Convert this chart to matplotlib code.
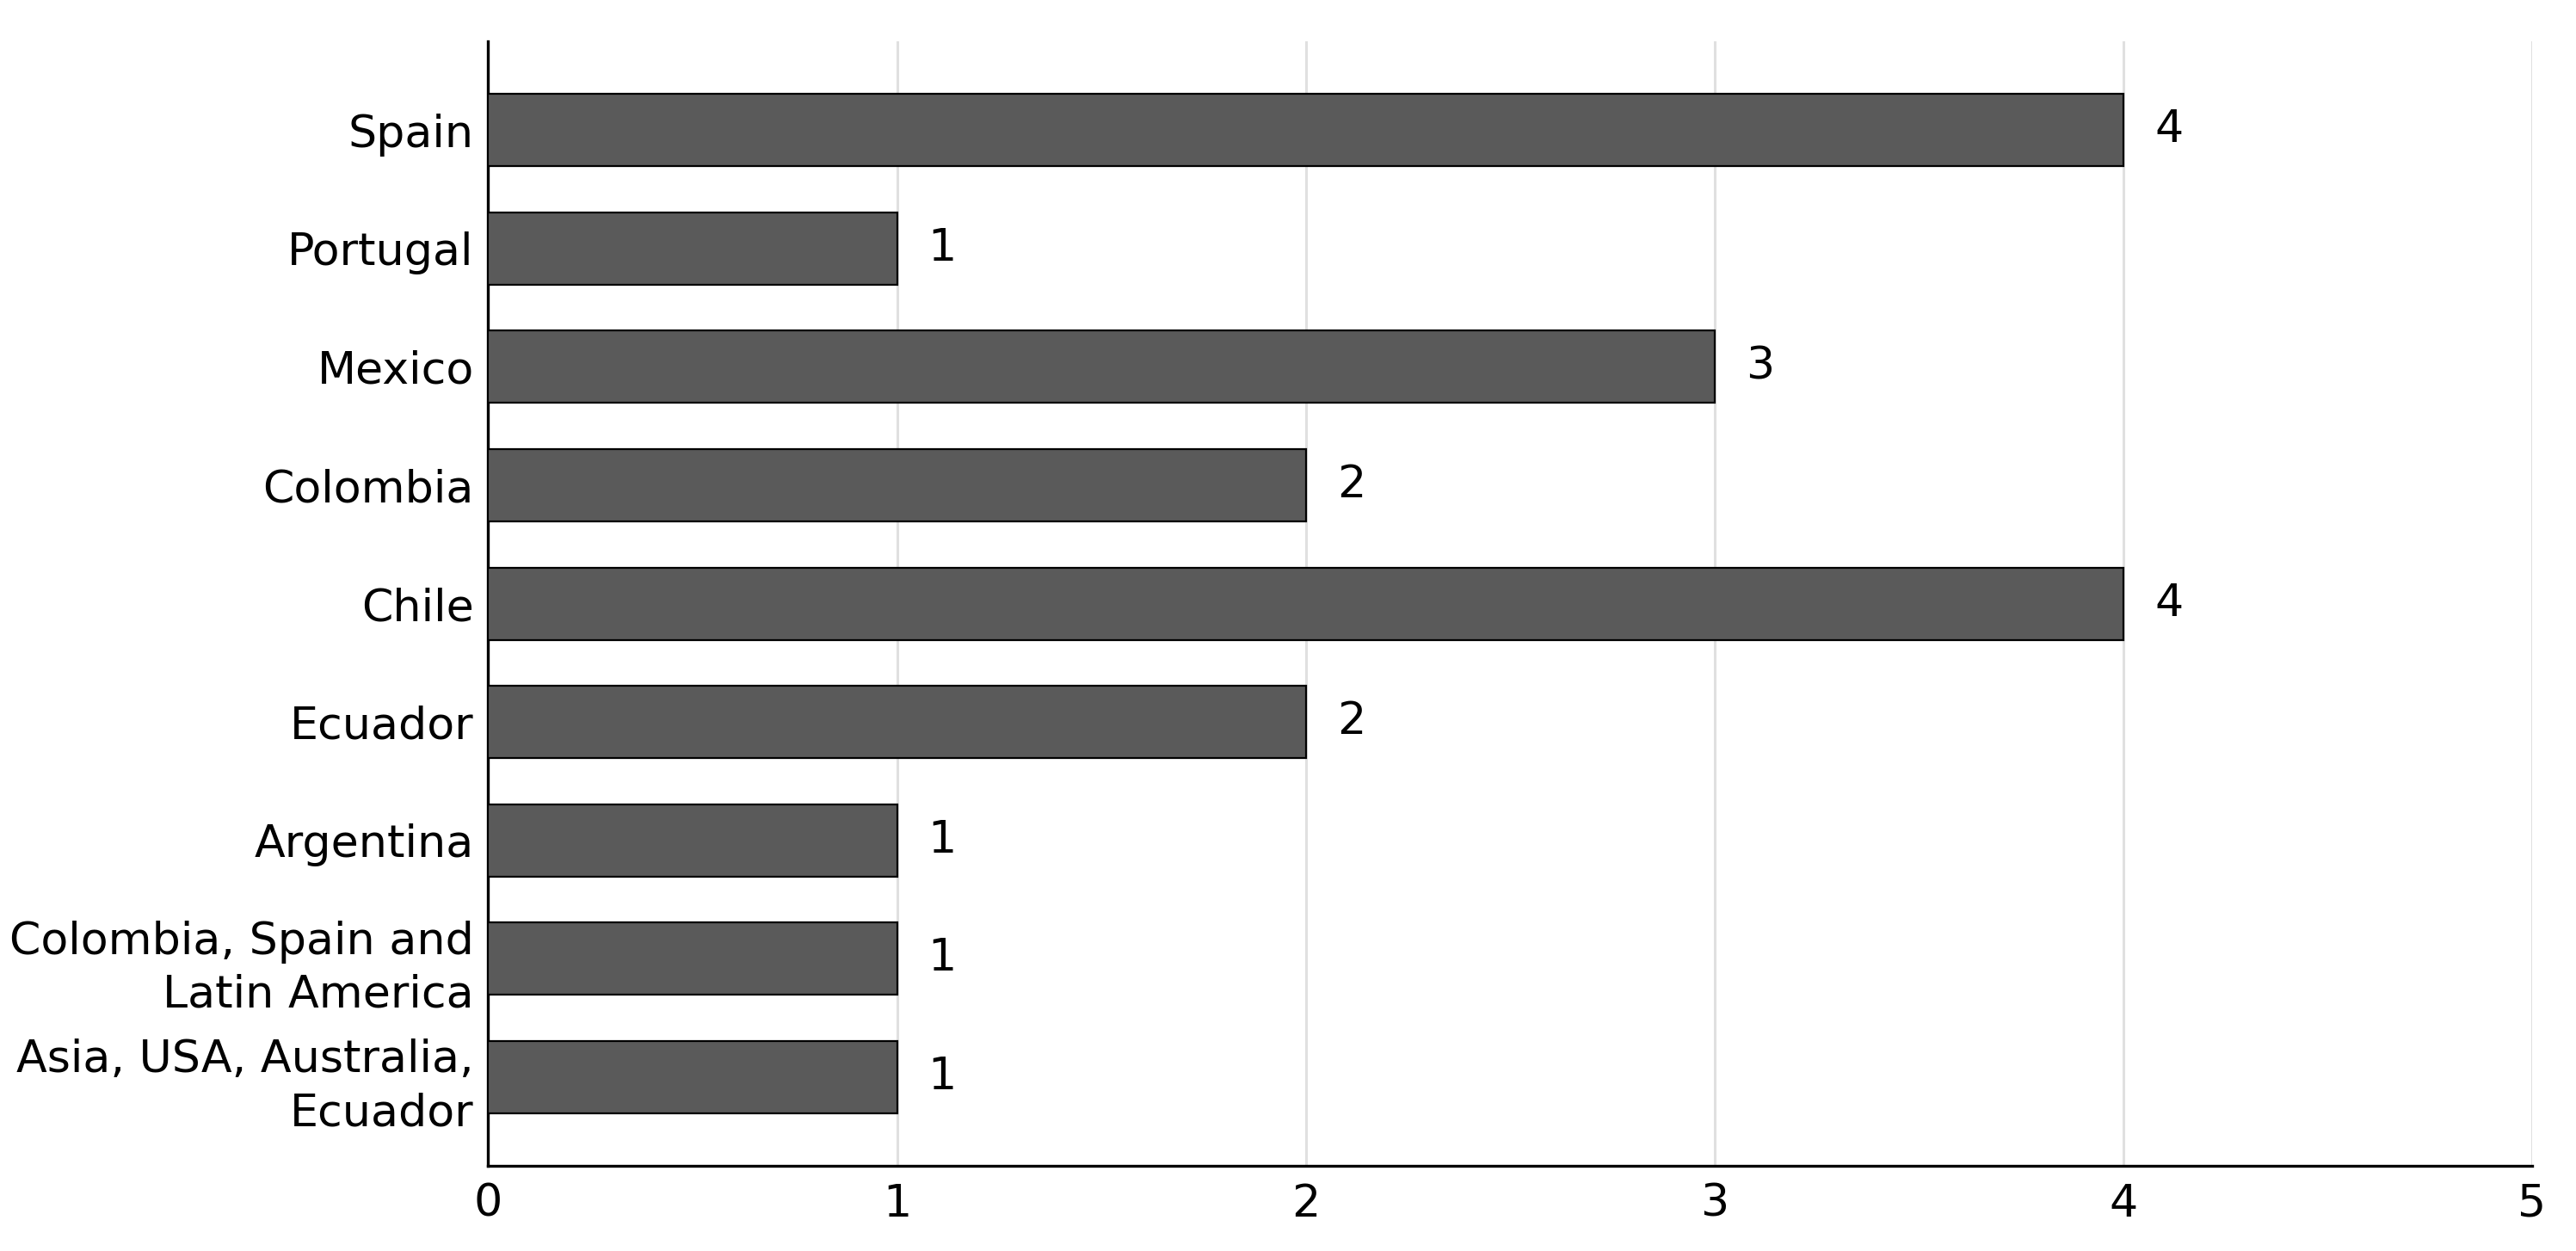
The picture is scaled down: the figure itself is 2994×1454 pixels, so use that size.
import matplotlib
matplotlib.use("Agg")
import matplotlib.pyplot as plt

# ---------------------------------------------------------------------------
# Data
# ---------------------------------------------------------------------------
countries = [
    "Spain",
    "Portugal",
    "Mexico",
    "Colombia",
    "Chile",
    "Ecuador",
    "Argentina",
    "Colombia, Spain and\nLatin America",
    "Asia, USA, Australia,\nEcuador",
]
counts = [4, 1, 3, 2, 4, 2, 1, 1, 1]
x_ticks = [0, 1, 2, 3, 4, 5]

# ---------------------------------------------------------------------------
# Figure
# ---------------------------------------------------------------------------
plt.rcParams["font.family"] = ["DejaVu Sans"]

fig, ax = plt.subplots(figsize=(14.97, 7.27), dpi=200)
fig.subplots_adjust(left=0.1895, right=0.983, top=0.967, bottom=0.068)

ypos = list(range(len(countries)))
bars = ax.barh(ypos, counts, height=0.61, color="#5a5a5a",
               edgecolor="black", linewidth=0.8, zorder=3)
ax.bar_label(bars, labels=[str(c) for c in counts], padding=13,
             fontsize=18.8)

ax.set_yticks(ypos)
ax.set_yticklabels(countries, fontsize=18.8, linespacing=1.3)
ax.set_xticks(x_ticks)
ax.set_xticklabels([str(v) for v in x_ticks], fontsize=18.8)
ax.set_xlim(0, 5)
ax.set_ylim(len(countries) - 0.25, -0.75)

ax.tick_params(axis="y", length=0, pad=6)
ax.tick_params(axis="x", length=0, pad=7)
ax.grid(axis="x", color="#e0e0e0", linewidth=1.1, zorder=0)
ax.set_axisbelow(True)

for side in ("top", "right"):
    ax.spines[side].set_visible(False)
for side in ("left", "bottom"):
    ax.spines[side].set_linewidth(1.2)

fig.savefig("out.png", dpi=200, facecolor="white")
